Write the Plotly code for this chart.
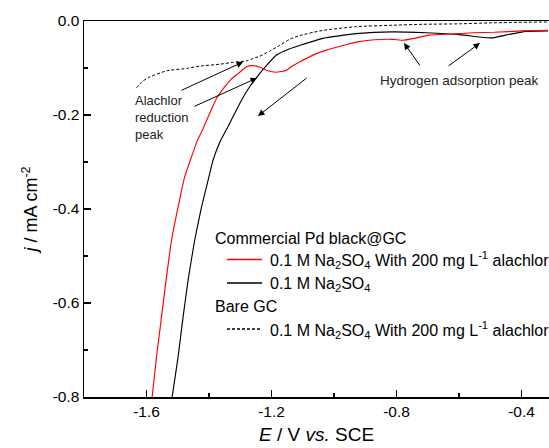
import plotly.graph_objects as go

# ---------------- data ----------------
E_pd_alachlor = [-1.582, -1.568, -1.552, -1.536, -1.520, -1.499, -1.478, -1.456, -1.437, -1.424,
                 -1.398, -1.376, -1.350, -1.328, -1.307, -1.281, -1.259, -1.238, -1.212, -1.185,
                 -1.153, -1.132, -1.110, -1.062, -1.025, -0.929, -0.871, -0.812, -0.780, -0.743,
                 -0.695, -0.599, -0.557, -0.487, -0.397, -0.315]
j_pd_alachlor = [-0.800, -0.715, -0.630, -0.545, -0.467, -0.396, -0.332, -0.289, -0.254, -0.236,
                 -0.197, -0.165, -0.140, -0.123, -0.112, -0.098, -0.095, -0.098, -0.106, -0.109,
                 -0.105, -0.095, -0.087, -0.071, -0.062, -0.045, -0.040, -0.039, -0.041, -0.037,
                 -0.030, -0.027, -0.025, -0.024, -0.021, -0.020]

E_pd_blank = [-1.518, -1.499, -1.483, -1.467, -1.446, -1.424, -1.403, -1.387, -1.364, -1.334,
              -1.302, -1.270, -1.238, -1.215, -1.185, -1.142, -1.110, -1.036, -0.929, -0.813,
              -0.705, -0.599, -0.535, -0.493, -0.450, -0.386, -0.315]
j_pd_blank = [-0.800, -0.715, -0.630, -0.552, -0.467, -0.396, -0.339, -0.296, -0.256, -0.218,
              -0.176, -0.140, -0.112, -0.094, -0.073, -0.059, -0.052, -0.037, -0.027, -0.023,
              -0.025, -0.029, -0.034, -0.036, -0.030, -0.022, -0.021]

E_gc_alachlor = [-1.632, -1.612, -1.589, -1.536, -1.472, -1.430, -1.366, -1.323, -1.281, -1.260,
                 -1.238, -1.206, -1.174, -1.142, -1.110, -1.036, -0.929, -0.812, -0.716, -0.599,
                 -0.503, -0.315]
j_gc_alachlor = [-0.142, -0.128, -0.119, -0.106, -0.101, -0.096, -0.092, -0.088, -0.085, -0.080,
                 -0.075, -0.064, -0.052, -0.039, -0.031, -0.020, -0.012, -0.009, -0.007, -0.006,
                 -0.004, -0.002]

x_tick_vals = [-1.6, -1.2, -0.8, -0.4]
x_tick_text = ["-1.6", "-1.2", "-0.8", "-0.4"]
y_tick_vals = [0.0, -0.2, -0.4, -0.6, -0.8]
y_tick_text = ["0.0", "-0.2", "-0.4", "-0.6", "-0.8"]

legend_title_pd = "Commercial Pd black@GC"
legend_title_gc = "Bare GC"
label_alachlor = "0.1 M Na<sub>2</sub>SO<sub>4</sub> With 200 mg L<sup>-1</sup> alachlor"
label_blank = "0.1 M Na<sub>2</sub>SO<sub>4</sub>"

# ---------------- layout geometry ----------------
W, H = 549, 448
L, R, T, B = 84, 0, 21, 51
PW, PH = W - L - R, H - T - B
FONT = "Arial, Liberation Sans, sans-serif"


def px(x):
    return (x - L) / PW


def py(y):
    return (H - B - y) / PH


fig = go.Figure()
fig.add_trace(go.Scatter(x=E_gc_alachlor, y=j_gc_alachlor, mode="lines",
                         line=dict(color="black", width=1, dash="3px,2px", shape="spline", smoothing=0.5),
                         showlegend=False))
fig.add_trace(go.Scatter(x=E_pd_blank, y=j_pd_blank, mode="lines",
                         line=dict(color="black", width=1.15, shape="spline", smoothing=0.4),
                         showlegend=False))
fig.add_trace(go.Scatter(x=E_pd_alachlor, y=j_pd_alachlor, mode="lines",
                         line=dict(color="red", width=1.15, shape="spline", smoothing=0.4),
                         showlegend=False))

# legend drawn manually
shapes = []
for y, dash, col in [(259.5, "solid", "#ff0000"), (283, "solid", "black"), (329, "3px,2px", "black")]:
    shapes.append(dict(type="line", xref="paper", yref="paper", x0=px(227), x1=px(262),
                       y0=py(y), y1=py(y), line=dict(color=col, width=1.3, dash=dash)))

annotations = []
for x, y, txt in [(213, 238, legend_title_pd), (268, 260, label_alachlor), (268, 284, label_blank),
                  (213, 306, legend_title_gc), (268, 330, label_alachlor)]:
    annotations.append(dict(x=px(x), y=py(y), xref="paper", yref="paper", text=txt, showarrow=False,
                            xanchor="left", yanchor="middle", font=dict(size=16, color="black", family=FONT)))

annotations.append(dict(x=px(133), y=py(91), xref="paper", yref="paper",
                        text="Alachlor<br>reduction<br>peak", showarrow=False, align="left",
                        xanchor="left", yanchor="top", font=dict(size=13, color="#222", family=FONT)))
annotations.append(dict(x=px(378), y=py(80), xref="paper", yref="paper",
                        text="Hydrogen adsorption peak", showarrow=False,
                        xanchor="left", yanchor="middle", font=dict(size=13.5, color="#222", family=FONT)))

arrows = [((180, 91), (243, 62)), ((193, 107), (257, 78)), ((308, 77), (258, 116)),
          ((421, 67), (404, 43)), ((447, 67), (480, 43))]
for (tx, ty), (hx, hy) in arrows:
    annotations.append(dict(x=px(hx), y=py(hy), xref="paper", yref="paper", text="",
                            showarrow=True, ax=tx - hx, ay=ty - hy, arrowhead=2,
                            arrowsize=1.3, arrowwidth=1, arrowcolor="black"))

fig.update_layout(
    width=W, height=H,
    margin=dict(l=L, r=R, t=T, b=B),
    paper_bgcolor="white", plot_bgcolor="white",
    font=dict(family=FONT, color="black", size=15.5),
    shapes=shapes, annotations=annotations,
    xaxis=dict(range=[-1.8, -0.312], tickmode="array", tickvals=x_tick_vals, ticktext=x_tick_text,
               ticks="inside", ticklen=7, tickwidth=1.2, tickcolor="black",
               minor=dict(ticks="inside", ticklen=4, dtick=0.2, tick0=-1.8, tickcolor="black"),
               showline=True, linecolor="black", linewidth=1.5, mirror=True,
               showgrid=False, zeroline=False, automargin=False,
               tickfont=dict(size=15.5),
               title=dict(text="<i>E</i> / V <i>vs.</i> SCE", font=dict(size=19), standoff=8)),
    yaxis=dict(range=[-0.8, 0.0], tickmode="array", tickvals=y_tick_vals, ticktext=y_tick_text,
               ticks="inside", ticklen=7, tickwidth=1.2, tickcolor="black",
               minor=dict(ticks="inside", ticklen=4, dtick=0.1, tick0=0, tickcolor="black"),
               showline=True, linecolor="black", linewidth=1.5, mirror=False,
               showgrid=False, zeroline=False, automargin=False,
               tickfont=dict(size=15.5),
               title=dict(text="<i>j</i> / mA cm<sup>-2</sup>", font=dict(size=18), standoff=10)),
)

fig.write_html("out.html", config={"displayModeBar": False, "staticPlot": True},
               post_script="document.body.style.margin='0';document.body.style.overflow='hidden';")
